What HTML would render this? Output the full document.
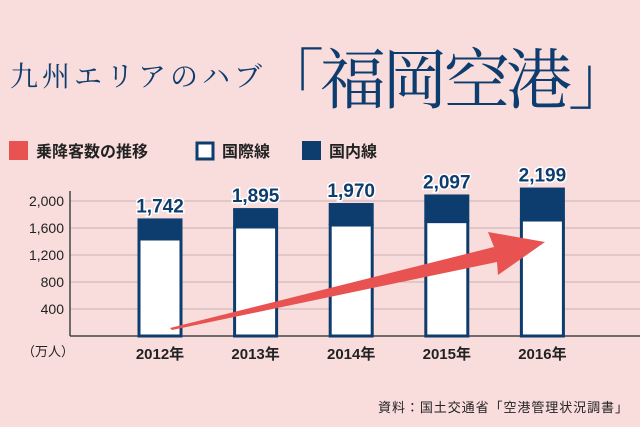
<!DOCTYPE html>
<html><head><meta charset="utf-8"><style>
body{margin:0;width:640px;height:427px;background:#f9dcdc;overflow:hidden;font-family:"Liberation Sans","Noto Sans CJK JP",sans-serif}
svg{display:block}
</style></head><body>
<svg width="640" height="427" xmlns="http://www.w3.org/2000/svg">
<rect width="640" height="427" fill="#f9dcdc"/>
<text x="10" y="86" font-family="'Noto Serif CJK SC','Noto Serif CJK JP',serif" font-size="28" fill="#0d3d6e" textLength="252">九州エリアのハブ</text>
<text x="258" y="103" font-family="'Noto Serif CJK SC','Noto Serif CJK JP',serif" font-size="66" fill="#0d3d6e" textLength="376">「福岡空港」</text>
<g font-size="16" font-weight="bold" fill="#222">
<rect x="9" y="141" width="19" height="19" fill="#e85352"/>
<text x="36" y="157">乗降客数の推移</text>
<rect x="197" y="143" width="16" height="16" fill="#fff" stroke="#0d3d6e" stroke-width="3"/>
<text x="222" y="157">国際線</text>
<rect x="302" y="141" width="19" height="19" fill="#0d3d6e"/>
<text x="329" y="157">国内線</text>
</g>
<g id="plot"></g>
<text x="628" y="412" text-anchor="end" font-size="13" fill="#222" textLength="250">資料：国土交通省「空港管理状況調書」</text>
</svg>
<script>
const categories=["2012年","2013年","2014年","2015年","2016年"];
const whiteValues=[1437,1615,1644,1694,1718];
const totalValues=[1742,1895,1970,2097,2199];
const totalLabels=["1,742","1,895","1,970","2,097","2,199"];
const yTicks=[400,800,1200,1600,2000];
const yTickLabels=["400","800","1,200","1,600","2,000"];
const NS="http://www.w3.org/2000/svg";
const g=document.getElementById("plot");
const y0=336,k=0.0675;
const y=v=>y0-v*k;
const x=i=>160+i*95.6;
const bw=45;
function mk(t,a){const e=document.createElementNS(NS,t);for(const n in a)e.setAttribute(n,a[n]);g.appendChild(e);return e;}
yTicks.forEach((t,i)=>{
 const l=mk("line",{x1:70,x2:640,y1:y(t),y2:y(t),stroke:"#c9b4b4","stroke-width":1});
 
 
 const tx=mk("text",{x:64,y:y(t)+5,"text-anchor":"end","font-size":14,fill:"#222"});
 tx.textContent=yTickLabels[i];
 
 
});
const ax=mk("line",{x1:70,x2:70,y1:191,y2:y0,stroke:"#444","stroke-width":1.5});


const bx=mk("line",{x1:70,x2:640,y1:y0,y2:y0,stroke:"#444","stroke-width":1.5});


const un=mk("text",{x:22,y:356,"font-size":13,fill:"#222"});
un.textContent="（万人）";


categories.forEach((c,i)=>{
 const cx=x(i);
 const top=mk("rect",{x:cx-bw/2,y:y(totalValues[i]),width:bw,height:y(whiteValues[i])-y(totalValues[i]),fill:"#0d3d6e"});
 
 
 const w=mk("rect",{x:cx-bw/2+1.5,y:y(whiteValues[i]),width:bw-3,height:y0-y(whiteValues[i]),fill:"#fff",stroke:"#0d3d6e","stroke-width":3});
 
 
 const v=mk("text",{x:cx,y:y(totalValues[i])-6,"text-anchor":"middle","font-size":19,"font-weight":"bold",fill:"#0d3d6e",stroke:"#fff","stroke-width":3,"paint-order":"stroke"});
 v.textContent=totalLabels[i];
 
 
 const cl=mk("text",{x:cx,y:359,"text-anchor":"middle","font-size":15,"font-weight":"bold",fill:"#222"});
 cl.textContent=c;
 
 
});
const arr=mk("polygon",{points:"170,328 494,247 488,232 545,242 498,275 497,262 172,330",fill:"#e85352"});


</script>
</body></html>
